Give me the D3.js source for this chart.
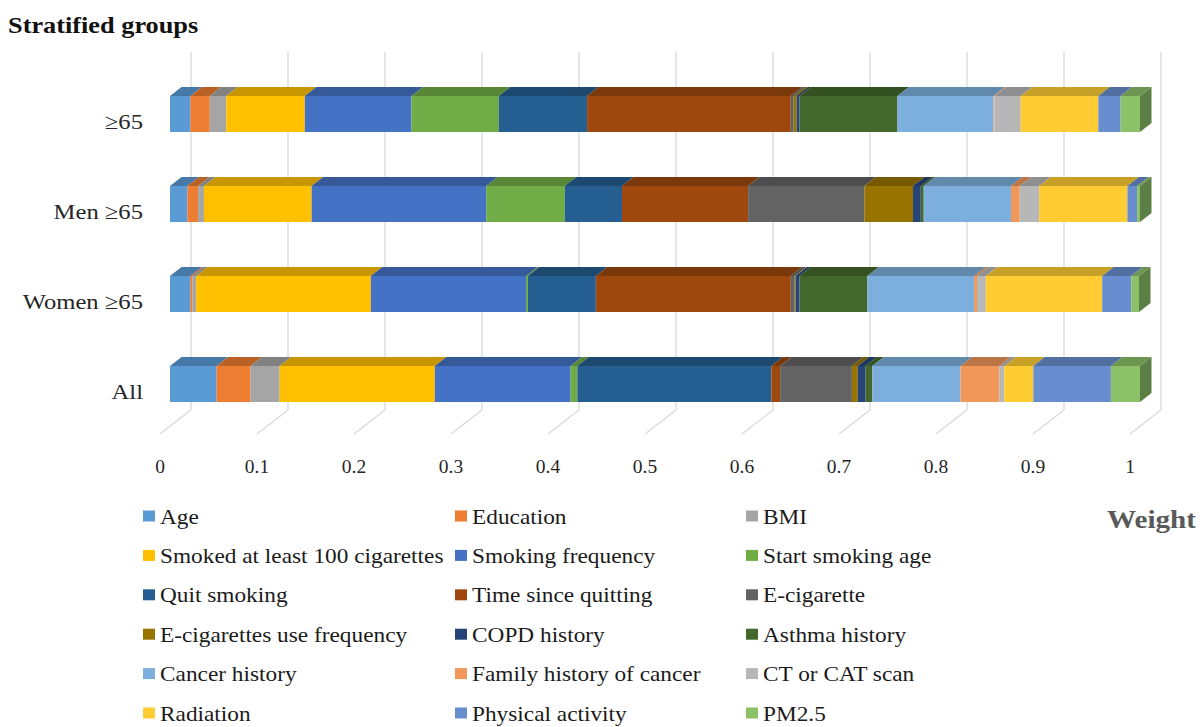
<!DOCTYPE html>
<html>
<head>
<meta charset="utf-8">
<script src="https://cdn.jsdelivr.net/npm/d3@7"></script>
<style>
  html, body { margin: 0; padding: 0; background: #ffffff; }
  svg { display: block; }
  text { font-family: "Liberation Serif", "Times New Roman", serif; }
</style>
</head>
<body>
<svg id="chart" width="1201" height="727"></svg>
<script>
// ---------------- data ----------------
const categories = ["≥65", "Men ≥65", "Women ≥65", "All"];

const seriesNames = [
  "Age", "Education", "BMI", "Smoked at least 100 cigarettes", "Smoking frequency",
  "Start smoking age", "Quit smoking", "Time since quitting", "E-cigarette",
  "E-cigarettes use frequency", "COPD history", "Asthma history", "Cancer history",
  "Family history of cancer", "CT or CAT scan", "Radiation", "Physical activity", "PM2.5"
];

const seriesColors = [
  "#5B9BD5", "#ED7D31", "#A5A5A5", "#FFC000", "#4472C4",
  "#70AD47", "#255E91", "#9E480E", "#636363",
  "#997300", "#264478", "#43682B", "#7CAFDD",
  "#F1975A", "#B7B7B7", "#FFCD33", "#698ED0", "#8CC168"
];

const valuesGe65 = [0.021, 0.020, 0.017, 0.081, 0.110, 0.090, 0.091, 0.210, 0.003,
                    0.003, 0.003, 0.101, 0.099, 0.001, 0.027, 0.080, 0.023, 0.020];
const valuesMenGe65 = [0.018, 0.011, 0.006, 0.111, 0.180, 0.081, 0.059, 0.130, 0.120,
                       0.050, 0.008, 0.003, 0.090, 0.009, 0.020, 0.091, 0.010, 0.003];
const valuesWomenGe65 = [0.021, 0.002, 0.004, 0.180, 0.160, 0.002, 0.070, 0.201, 0.004,
                         0.001, 0.004, 0.070, 0.110, 0.003, 0.009, 0.120, 0.030, 0.008];
const valuesAll = [0.048, 0.035, 0.030, 0.160, 0.140, 0.007, 0.200, 0.009, 0.074,
                   0.006, 0.008, 0.007, 0.091, 0.040, 0.005, 0.030, 0.080, 0.030];

const tickValues = [0, 0.1, 0.2, 0.3, 0.4, 0.5, 0.6, 0.7, 0.8, 0.9, 1];

// ---------------- build ----------------
const rows = [valuesGe65, valuesMenGe65, valuesWomenGe65, valuesAll];
const table = categories.map((c, i) => {
  const o = { category: c };
  seriesNames.forEach((s, j) => { o[s] = rows[i][j]; });
  return o;
});
const stacked = d3.stack().keys(seriesNames)(table);

const svg = d3.select("#chart");

const depthX = 11.5, depthY = 9;       // bar depth projection
const wallDX = 31;                     // floor depth projection
const floorFrontY = 434, wallBottom = 410, wallTop = 52;

const xBar = d3.scaleLinear().domain([0, 1]).range([170, 1140]);
const xFloor = d3.scaleLinear().domain([0, 1]).range([160, 1130]);
const yCenter = d3.scalePoint().domain(categories).range([114, 384]);
const barH = 36;

const colorScale = d3.scaleOrdinal().domain(seriesNames).range(seriesColors);
const shade = (c, k) => { const h = d3.rgb(c); return d3.rgb(h.r * k, h.g * k, h.b * k).formatHex(); };

// helper: text with horizontal stretch around its anchor point
function stretchedText(parent, x, y, sx, txt) {
  return parent.append("text")
    .attr("transform", `translate(${x},${y}) scale(${sx},1)`)
    .text(txt);
}

// gridlines: back wall verticals + floor diagonals
const grid = svg.append("g");
tickValues.forEach(t => {
  const xf = xFloor(t), xw = xFloor(t) + wallDX;
  grid.append("path")
    .attr("d", `M${xw},${wallTop}L${xw},${wallBottom}L${xf},${floorFrontY}`)
    .attr("fill", "none").attr("stroke", "#d9d9d9").attr("stroke-width", 1.3);
});

// x axis tick labels
svg.append("g").selectAll("text").data(tickValues).join("text")
  .attr("x", d => xFloor(d))
  .attr("y", 473)
  .attr("text-anchor", "middle")
  .attr("font-size", 19.5)
  .attr("fill", "#262626")
  .text(d => d3.format("~g")(d));

// bars
const barsG = svg.append("g");
stacked.forEach((layer, li) => {
  const key = layer.key;
  const col = colorScale(key);
  layer.forEach((seg, ci) => {
    const x0 = xBar(seg[0]), x1 = xBar(seg[1]);
    if (x1 - x0 <= 0) return;
    const top = yCenter(categories[ci]) - barH / 2;
    const g = barsG.append("g");
    g.append("path")
      .attr("d", `M${x0},${top}L${x0 + depthX},${top - depthY}L${x1 + depthX},${top - depthY}L${x1},${top}Z`)
      .attr("fill", shade(col, 0.78));
    g.append("rect")
      .attr("x", x0).attr("y", top)
      .attr("width", x1 - x0).attr("height", barH)
      .attr("fill", col);
    if (li === stacked.length - 1) {
      g.append("path")
        .attr("d", `M${x1},${top}L${x1 + depthX},${top - depthY}L${x1 + depthX},${top + barH - depthY}L${x1},${top + barH}Z`)
        .attr("fill", shade(col, 0.66));
    }
  });
});

// category labels
const catG = svg.append("g")
  .attr("font-size", 22).attr("fill", "#262626").attr("text-anchor", "end");
categories.forEach(c => {
  stretchedText(catG, 143, yCenter(c) + 15, 1.12, c);
});

// title
const titleG = svg.append("g")
  .attr("font-size", 22.5).attr("font-weight", "bold").attr("fill", "#111");
stretchedText(titleG, 8, 33, 1.17, "Stratified groups");

// axis title
const wG = svg.append("g")
  .attr("font-size", 26).attr("font-weight", "bold").attr("fill", "#595959");
stretchedText(wG, 1107, 528, 1.12, "Weight");

// legend
const colSq = [143, 455, 746];
const legend = svg.append("g").attr("font-size", 22).attr("fill", "#1a1a1a");
seriesNames.forEach((s, i) => {
  const col = i % 3, row = Math.floor(i / 3);
  const cy = 516 + row * 39.4;
  legend.append("rect")
    .attr("x", colSq[col]).attr("y", cy - 5.5)
    .attr("width", 12).attr("height", 11)
    .attr("fill", colorScale(s));
  stretchedText(legend, colSq[col] + 17, cy + 7.5, 1.06, s);
});
</script>
</body>
</html>
